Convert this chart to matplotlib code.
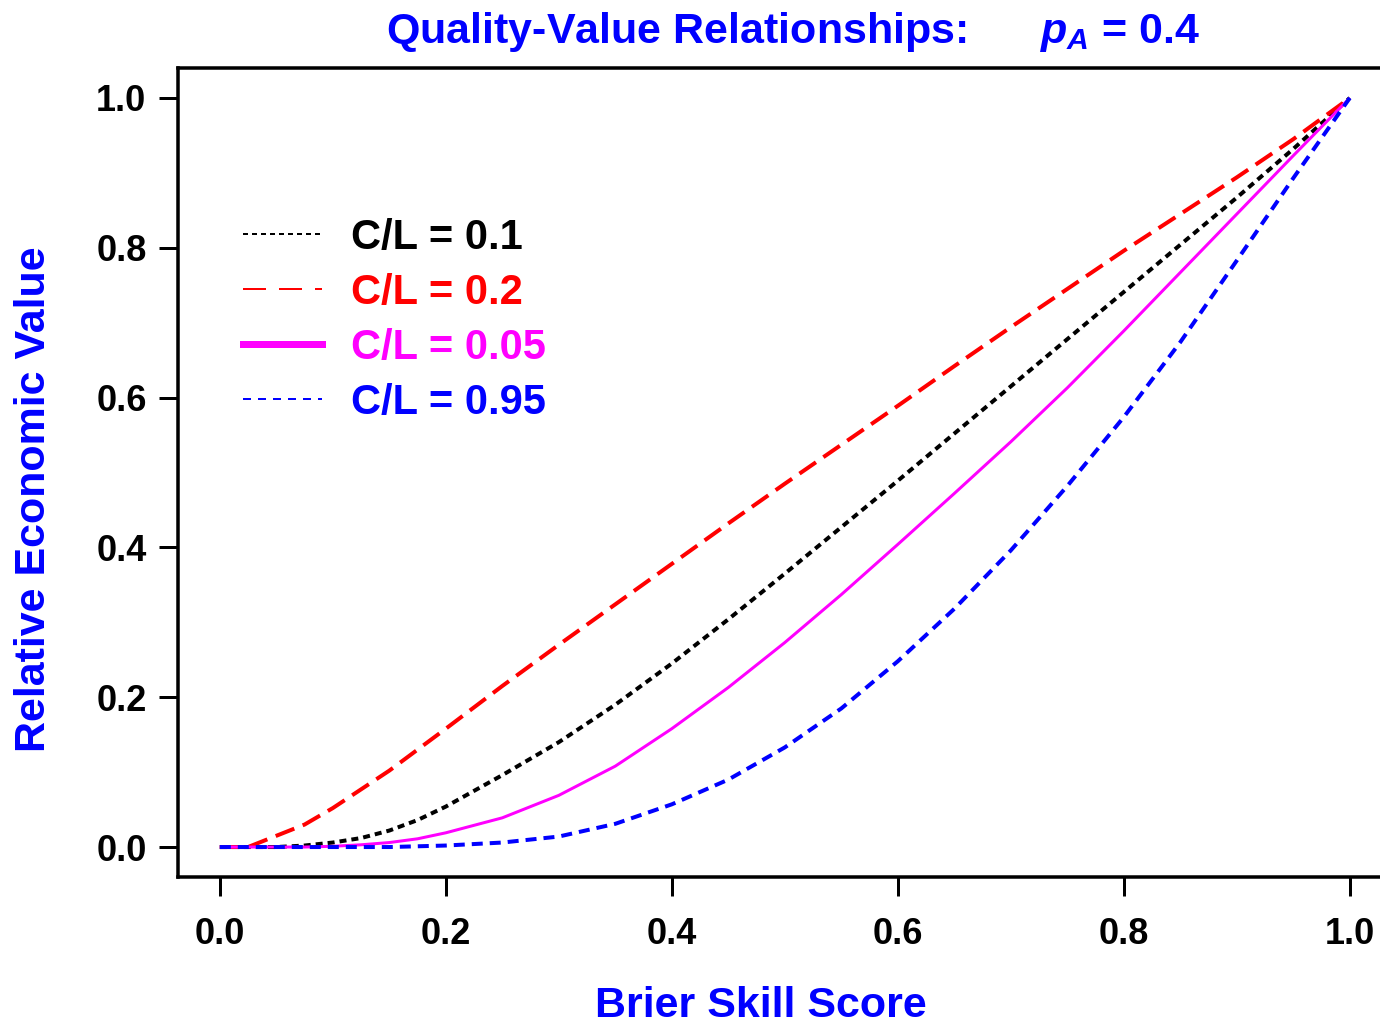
import matplotlib
matplotlib.use("Agg")
import matplotlib.pyplot as plt
from matplotlib.lines import Line2D

plt.rcParams['font.family'] = ['Liberation Sans', 'DejaVu Sans']
plt.rcParams['font.weight'] = 'bold'
plt.rcParams['mathtext.fontset'] = 'custom'
plt.rcParams['mathtext.rm'] = 'Liberation Sans:bold'
plt.rcParams['mathtext.it'] = 'Liberation Sans:italic:bold'
plt.rcParams['mathtext.bf'] = 'Liberation Sans:bold'

# Data
bss = [0, 0.025, 0.05, 0.075, 0.1, 0.125, 0.15, 0.175, 0.2, 0.25, 0.3, 0.35, 0.4,
       0.45, 0.5, 0.55, 0.6, 0.65, 0.7, 0.75, 0.8, 0.85, 0.9, 0.95, 1.0]
v_cl_01 = [0, 0, 0, 0.002, 0.006, 0.012, 0.022, 0.036, 0.054, 0.096, 0.140, 0.190, 0.245,
           0.304, 0.365, 0.427, 0.489, 0.552, 0.615, 0.678, 0.741, 0.804, 0.867, 0.932, 1.0]
v_cl_02 = [0, 0, 0.015, 0.030, 0.052, 0.077, 0.102, 0.130, 0.158, 0.215, 0.270, 0.324, 0.378,
           0.432, 0.485, 0.537, 0.589, 0.642, 0.694, 0.745, 0.796, 0.845, 0.894, 0.945, 1.0]
v_cl_005 = [0, 0, 0, 0, 0.001, 0.003, 0.006, 0.011, 0.019, 0.039, 0.069, 0.108, 0.158,
            0.213, 0.273, 0.337, 0.404, 0.472, 0.541, 0.613, 0.689, 0.767, 0.845, 0.923, 1.0]
v_cl_095 = [0, 0, 0, 0, 0, 0, 0, 0.001, 0.002, 0.006, 0.014, 0.031, 0.057,
            0.090, 0.133, 0.185, 0.248, 0.318, 0.396, 0.482, 0.574, 0.674, 0.783, 0.893, 1.0]

labels = ["C/L = 0.1", "C/L = 0.2", "C/L = 0.05", "C/L = 0.95"]
colors = ["black", "red", "magenta", "blue"]
xticks = [0.0, 0.2, 0.4, 0.6, 0.8, 1.0]
yticks = [0.0, 0.2, 0.4, 0.6, 0.8, 1.0]

W, H = 1380, 1028
fig = plt.figure(figsize=(W / 100, H / 100), dpi=100)
ax_l, ax_r, ax_t, ax_b = 178, 1395, 68, 877
ax = fig.add_axes([ax_l / W, 1 - ax_b / H, (ax_r - ax_l) / W, (ax_b - ax_t) / H])

px = 0.72  # points per pixel
ax.plot(bss, v_cl_01, color="black", lw=4 * px, dashes=(1.75, 1.25), dash_capstyle='butt')
ax.plot(bss, v_cl_02, color="red", lw=4 * px, dashes=(5.0, 2.25), dash_capstyle='butt')
ax.plot(bss, v_cl_005, color="magenta", lw=3 * px, solid_capstyle='butt')
ax.plot(bss, v_cl_095, color="blue", lw=4 * px, dashes=(2.75, 1.75), dash_capstyle='butt')

ax.set_xlim(-0.037, 1.04)
ax.set_ylim(-0.04, 1.04)
ax.set_xticks(xticks)
ax.set_yticks(yticks)
ax.set_xticklabels([f"{t:.1f}" for t in xticks])
ax.set_yticklabels([f"{t:.1f}" for t in yticks])
ax.tick_params(axis='both', labelsize=26, width=3 * px, length=19 * px, color='black')
ax.tick_params(axis='x', pad=15)
ax.tick_params(axis='y', pad=9)
for sp in ax.spines.values():
    sp.set_linewidth(3.5 * px)

xl = ax.set_xlabel("Brier Skill Score", color="blue", fontsize=31, fontweight='bold')
yl = ax.set_ylabel("Relative Economic Value", color="blue", fontsize=31, fontweight='bold')
ax.xaxis.set_label_coords((761 - ax_l) / (ax_r - ax_l), (ax_b - 1006) / (ax_b - ax_t))
ax.yaxis.set_label_coords((34 - ax_l) / (ax_r - ax_l), (ax_b - 499) / (ax_b - ax_t))
xl.set_va('center')
yl.set_va('center')

fig.text(793 / W, 1 - 32 / H,
         r"Quality-Value Relationships:      $p_{A}$ = 0.4",
         color="blue", fontsize=31, fontweight='bold', ha='center', va='center')

handles = [
    Line2D([], [], color="black", lw=2 * px, dashes=(2.5, 2.0)),
    Line2D([], [], color="red", lw=2 * px, dashes=(11.5, 6.5)),
    Line2D([], [], color="magenta", lw=7 * px),
    Line2D([], [], color="blue", lw=2 * px, dashes=(4.0, 3.5)),
]
leg = ax.legend(handles, labels, loc='upper left',
                bbox_to_anchor=(243 / W, 1 - 218 / H), bbox_transform=fig.transFigure,
                frameon=False, fontsize=30, handlelength=1.9, handletextpad=0.7,
                labelspacing=0.36, borderpad=0, borderaxespad=0)
for txt, c in zip(leg.get_texts(), colors):
    txt.set_color(c)
    txt.set_fontweight('bold')

fig.savefig("out.png", dpi=100)
